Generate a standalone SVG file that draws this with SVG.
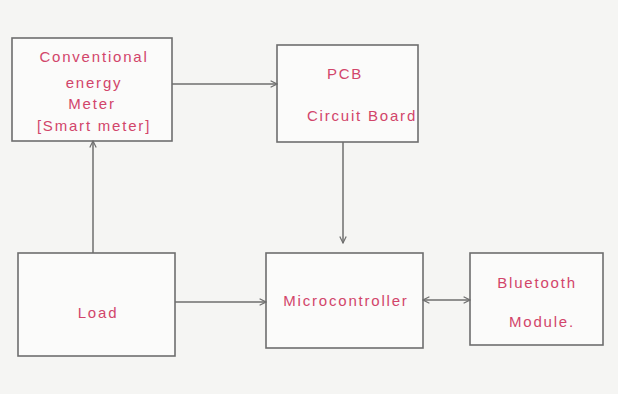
<svg xmlns="http://www.w3.org/2000/svg" width="618" height="394" viewBox="0 0 618 394">
<defs>
<style>
.box{fill:#fbfbfa;stroke:#6e6e6e;stroke-width:1.6}
.lbl{font-family:"Liberation Sans",Arial,sans-serif;font-size:15px;letter-spacing:1.8px;fill:#d2456a;text-anchor:middle}
.edge{fill:none;stroke:#6e6e6e;stroke-width:1.5}
</style>
<marker id="ah" viewBox="0 0 10 10" refX="9" refY="5" markerWidth="8" markerHeight="8" orient="auto-start-reverse" markerUnits="userSpaceOnUse">
<path d="M1,1 L9,5 L1,9" fill="none" stroke="#6e6e6e" stroke-width="1.5"/>
</marker>
</defs>
<rect width="618" height="394" fill="#f5f5f3"/>
<g id="meter">
<rect class="box" x="12" y="38" width="160" height="103"/>
<text class="lbl" x="94" y="62">Conventional</text>
<text class="lbl" x="94" y="88">energy</text>
<text class="lbl" x="92" y="109">Meter</text>
<text class="lbl" x="94" y="131">[Smart meter]</text>
</g>
<g id="pcb">
<rect class="box" x="277" y="45" width="141" height="97"/>
<text class="lbl" x="345" y="79">PCB</text>
<text class="lbl" x="362" y="121">Circuit Board</text>
</g>
<g id="load">
<rect class="box" x="18" y="253" width="157" height="103"/>
<text class="lbl" x="98" y="318">Load</text>
</g>
<g id="mcu">
<rect class="box" x="266" y="253" width="157" height="95"/>
<text class="lbl" x="346" y="306">Microcontroller</text>
</g>
<g id="bt">
<rect class="box" x="470" y="253" width="133" height="92"/>
<text class="lbl" x="537" y="288">Bluetooth</text>
<text class="lbl" x="542" y="327">Module.</text>
</g>
<g id="connectors">
<line class="edge" x1="172" y1="84" x2="277" y2="84" marker-end="url(#ah)"/>
<line class="edge" x1="343" y1="142" x2="343" y2="243" marker-end="url(#ah)"/>
<line class="edge" x1="93" y1="253" x2="93" y2="141" marker-end="url(#ah)"/>
<line class="edge" x1="175" y1="302" x2="266" y2="302" marker-end="url(#ah)"/>
<line class="edge" x1="423" y1="300" x2="470" y2="300" marker-start="url(#ah)" marker-end="url(#ah)"/>
</g>
</svg>
